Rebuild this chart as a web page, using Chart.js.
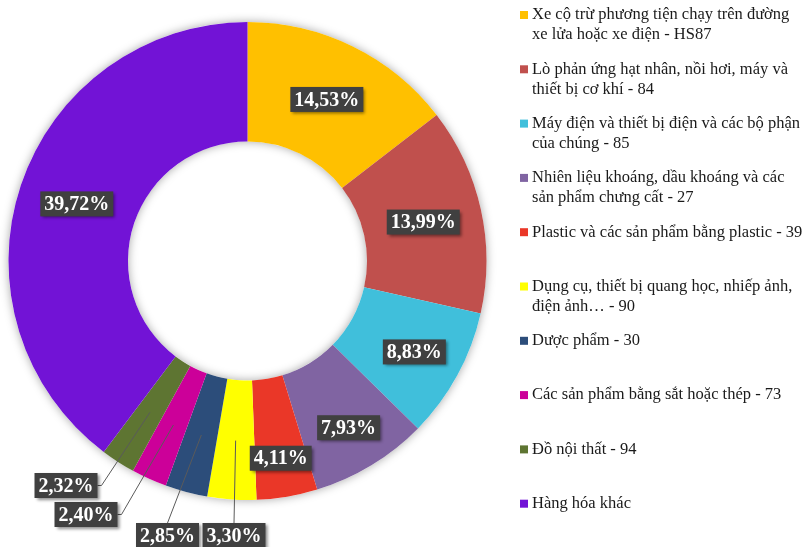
<!DOCTYPE html>
<html lang="vi">
<head>
<meta charset="utf-8">
<title>Cơ cấu mặt hàng</title>
<script src="https://cdn.jsdelivr.net/npm/chart.js@4.4.1/dist/chart.umd.min.js"></script>
<style>
  html, body { margin: 0; padding: 0; background: #fff; }
  #wrap { position: relative; width: 807px; height: 547px; }
</style>
</head>
<body>
<div id="wrap"><canvas id="chart"></canvas></div>
<script>
// legend text, already split into the lines it is shown on
const categories = [
  ['Xe cộ trừ phương tiện chạy trên đường', 'xe lửa hoặc xe điện - HS87'],
  ['Lò phản ứng hạt nhân, nồi hơi, máy và', 'thiết bị cơ khí - 84'],
  ['Máy điện và thiết bị điện và các bộ phận', 'của chúng - 85'],
  ['Nhiên liệu khoáng, dầu khoáng và các', 'sản phẩm chưng cất - 27'],
  ['Plastic và các sản phẩm bằng plastic - 39'],
  ['Dụng cụ, thiết bị quang học, nhiếp ảnh,', 'điện ảnh… - 90'],
  ['Dược phẩm - 30'],
  ['Các sản phẩm bằng sắt hoặc thép - 73'],
  ['Đồ nội thất - 94'],
  ['Hàng hóa khác']
];
const shares = [14.53, 13.99, 8.83, 7.93, 4.11, 3.30, 2.85, 2.40, 2.32, 39.72];
const sliceColors = [
  '#FFC000', '#C0504D', '#40BFDB', '#8064A2', '#EA3728',
  '#FFFF00', '#2C4D7A', '#CC0099', '#5E7532', '#7213D6'
];

// where each percentage box goes: inside the ring at radius r,
// or pulled out below the ring (offset from the centre) with a leader line
const labelSpots = [
  { r: 180 }, { r: 180 }, { r: 190 }, { r: 195 }, { r: 200 },
  { dx: -13.5, dy: 274.5, from: 'top' },
  { dx: -80, dy: 274.5, from: 'top' },
  { dx: -161.5, dy: 253.5, from: 'right' },
  { dx: -181.5, dy: 224.5, from: 'right' },
  { r: 180 }
];

const legendLayout = { boxX: 520, textX: 532, firstY: 15, step: 54.3, lineH: 20, box: 8 };

const fmtPct = (v) => v.toFixed(2).replace('.', ',') + '%';

const ringShadow = {
  id: 'ringShadow',
  beforeDatasetsDraw(chart) {
    const a = chart.getDatasetMeta(0).data[0];
    if (!a) return;
    const ctx = chart.ctx;
    ctx.save();
    ctx.beginPath();
    ctx.arc(a.x, a.y, a.outerRadius, 0, Math.PI * 2);
    ctx.arc(a.x, a.y, a.innerRadius, 0, Math.PI * 2, true);
    ctx.shadowColor = 'rgba(0,0,0,0.35)';
    ctx.shadowBlur = 10;
    ctx.fillStyle = '#fff';
    ctx.fill();
    ctx.restore();
  }
};

const pctLabels = {
  id: 'pctLabels',
  afterDatasetsDraw(chart) {
    const ctx = chart.ctx;
    const meta = chart.getDatasetMeta(0);
    const values = chart.data.datasets[0].data;
    ctx.save();
    ctx.font = 'bold 20px "Liberation Serif", "Times New Roman", serif';
    ctx.textAlign = 'center';
    ctx.textBaseline = 'middle';
    meta.data.forEach((arc, i) => {
      const spot = labelSpots[i];
      const mid = (arc.startAngle + arc.endAngle) / 2;
      const text = fmtPct(values[i]);
      const w = ctx.measureText(text).width + 8;
      const h = 25;
      let cx, cy;
      if (spot.r !== undefined) {
        cx = arc.x + Math.cos(mid) * spot.r;
        cy = arc.y + Math.sin(mid) * spot.r;
      } else {
        cx = arc.x + spot.dx;
        cy = arc.y + spot.dy;
        // leader line from the box into the middle of the slice
        const px = arc.x + Math.cos(mid) * 180;
        const py = arc.y + Math.sin(mid) * 180;
        ctx.strokeStyle = '#5a5a5a';
        ctx.lineWidth = 1;
        ctx.beginPath();
        if (spot.from === 'top') {
          ctx.moveTo(cx, cy - h / 2);
        } else {
          ctx.moveTo(cx + w / 2, cy);
          ctx.lineTo(cx + w / 2 + 4, cy);
        }
        ctx.lineTo(px, py);
        ctx.stroke();
      }
      ctx.save();
      ctx.shadowColor = 'rgba(0,0,0,0.45)';
      ctx.shadowBlur = 3;
      ctx.shadowOffsetX = 2;
      ctx.shadowOffsetY = 2;
      ctx.fillStyle = '#404040';
      ctx.fillRect(cx - w / 2, cy - h / 2, w, h);
      ctx.restore();
      ctx.fillStyle = '#ffffff';
      ctx.fillText(text, cx, cy + 1);
    });
    ctx.restore();
  }
};

const sideLegend = {
  id: 'sideLegend',
  afterDraw(chart) {
    const ctx = chart.ctx;
    const L = legendLayout;
    const colorsUsed = chart.data.datasets[0].backgroundColor;
    ctx.save();
    ctx.font = '16.5px "Liberation Serif", "Times New Roman", serif';
    ctx.textAlign = 'left';
    ctx.textBaseline = 'middle';
    chart.data.labels.forEach((lines, i) => {
      const y = L.firstY + i * L.step;
      ctx.fillStyle = colorsUsed[i];
      ctx.fillRect(L.boxX, y - L.box / 2, L.box, L.box);
      ctx.fillStyle = '#1a1a1a';
      lines.forEach((line, k) => ctx.fillText(line, L.textX, y + k * L.lineH));
    });
    ctx.restore();
  }
};

new Chart(document.getElementById('chart'), {
  type: 'doughnut',
  data: {
    labels: categories,
    datasets: [{
      data: shares,
      backgroundColor: sliceColors,
      borderWidth: 0
    }]
  },
  options: {
    responsive: true,
    maintainAspectRatio: false,
    animation: false,
    cutout: '50%',
    layout: { padding: { left: 8.5, top: 22, right: 320.5, bottom: 47 } },
    plugins: {
      legend: { display: false },
      tooltip: { enabled: false }
    }
  },
  plugins: [ringShadow, pctLabels, sideLegend]
});
</script>
</body>
</html>
